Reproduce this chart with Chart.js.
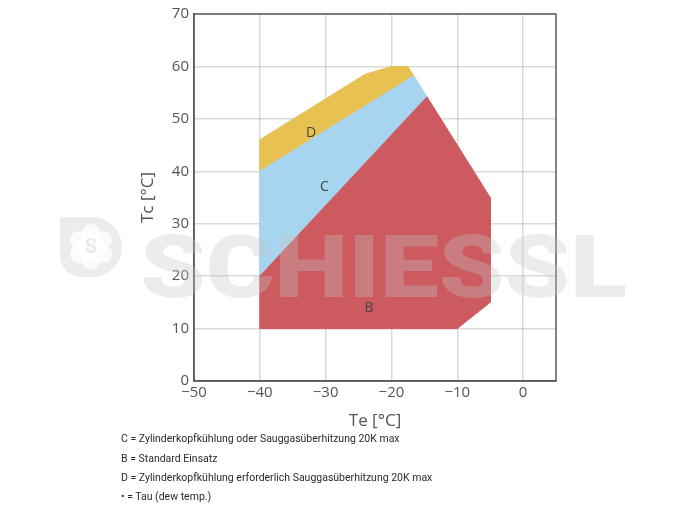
<!DOCTYPE html>
<html>
<head>
<meta charset="utf-8">
<script src="https://cdn.jsdelivr.net/npm/chart.js@4/dist/chart.umd.min.js"></script>
<style>
  html, body { margin: 0; padding: 0; background: #fff; }
  #wrap { position: relative; width: 685px; height: 514px; }
  canvas { position: absolute; left: 0; top: 0; }
  .note { position: absolute; left: 121px; font-family: Roboto, sans-serif; font-size: 10.5px; line-height: 12px; color: #2a2a2a; white-space: nowrap; }
</style>
</head>
<body>
<div id="wrap">
  <canvas id="c" width="685" height="514"></canvas>
  <div class="note" style="top:433px">C = Zylinderkopfkühlung oder Sauggasüberhitzung 20K max</div>
  <div class="note" style="top:453px">B = Standard Einsatz</div>
  <div class="note" style="top:472px">D = Zylinderkopfkühlung erforderlich Sauggasüberhitzung 20K max</div>
  <div class="note" style="top:491px">• = Tau (dew temp.)</div>
</div>
<script>
// ---- data ----
const xTicks = [-50, -40, -30, -20, -10, 0];
const yTicks = [0, 10, 20, 30, 40, 50, 60, 70];
const xRange = [-50, 5];
const yRange = [0, 70];

// Region B (Standard Einsatz) outline: Te / Tc
const bTe = [-40, -40, -14.6, -5, -5, -10, -40];
const bTc = [10, 20, 54.2, 35, 15, 10, 10];
// Region C outline
const cTe = [-40, -40, -16.6, -14.6, -40];
const cTc = [20, 40, 58.2, 54.2, 20];
// Region D outline
const dTe = [-40, -40, -24, -20, -17.5, -16.6, -40];
const dTc = [40, 46, 58.5, 60, 60, 58.2, 40];

// Region labels
const regionNames = ['B', 'C', 'D'];
const labelTe = [-23.4, -30.2, -32.2];
const labelTc = [13.9, 37, 47.3];

const xTitle = 'Te [°C]';
const yTitle = 'Tc [°C]';
const watermark = 'SCHIESSL';

function pts(xs, ys) { return xs.map((x, i) => ({ x: x, y: ys[i] })); }
function fmt(v) { return v < 0 ? '\u2212' + Math.abs(v) : String(v); }

const tickFont = { family: "'Open Sans', sans-serif", size: 15 };
const titleFont = { family: "'Open Sans', sans-serif", size: 17 };

const regionLabels = {
  id: 'regionLabels',
  afterDatasetsDraw(chart) {
    const ctx = chart.ctx, xs = chart.scales.x, ys = chart.scales.y;
    ctx.save();
    ctx.font = "14px 'Open Sans', sans-serif";
    ctx.fillStyle = '#444';
    ctx.textAlign = 'center';
    ctx.textBaseline = 'middle';
    regionNames.forEach((n, i) => {
      ctx.fillText(n, xs.getPixelForValue(labelTe[i]), ys.getPixelForValue(labelTc[i]));
    });
    ctx.restore();
  }
};

const frame = {
  id: 'frame',
  afterDraw(chart) {
    const ctx = chart.ctx, a = chart.chartArea;
    ctx.save();
    ctx.strokeStyle = '#5a5a5a';
    ctx.lineWidth = 1.5;
    ctx.strokeRect(a.left, a.top, a.right - a.left, a.bottom - a.top);
    ctx.restore();
  }
};

const mark = {
  id: 'mark',
  afterDraw(chart) {
    const ctx = chart.ctx;
    ctx.save();
    const col = 'rgba(197,197,197,0.33)';
    // shield logo
    ctx.fillStyle = col;
    ctx.beginPath();
    ctx.roundRect(60, 217, 62, 60, [2, 31, 31, 22]);
    ctx.fill();
    ctx.fillStyle = 'rgba(255,255,255,0.8)';
    for (let k = 0; k < 6; k++) {
      const ang = k * Math.PI / 3 + Math.PI / 6;
      ctx.beginPath();
      ctx.arc(91 + Math.cos(ang) * 14, 247 + Math.sin(ang) * 14, 9, 0, Math.PI * 2);
      ctx.fill();
    }
    ctx.beginPath();
    ctx.arc(91, 247, 14, 0, Math.PI * 2);
    ctx.fill();
    ctx.fillStyle = col;
    ctx.font = "bold 20px Roboto, sans-serif";
    ctx.textAlign = 'center';
    ctx.textBaseline = 'middle';
    ctx.fillText('S', 91, 248);
    // text
    ctx.font = "900 87px Roboto, sans-serif";
    ctx.textAlign = 'left';
    ctx.textBaseline = 'alphabetic';
    const w = ctx.measureText(watermark).width;
    ctx.translate(140, 297);
    ctx.scale(487 / w, 1);
    ctx.fillStyle = col;
    ctx.fillText(watermark, 0, 0);
    ctx.restore();
  }
};

function region(data, color) {
  return {
    data: data,
    showLine: true,
    fill: 'shape',
    backgroundColor: color,
    borderColor: color,
    borderWidth: 1,
    pointRadius: 0,
    pointHoverRadius: 0,
    tension: 0
  };
}

new Chart(document.getElementById('c'), {
  type: 'scatter',
  data: {
    datasets: [
      region(pts(bTe, bTc), '#cd5a5e'),
      region(pts(cTe, cTc), '#a7d4ef'),
      region(pts(dTe, dTc), '#e8c153')
    ]
  },
  options: {
    responsive: false,
    animation: false,
    events: [],
    layout: { padding: { left: 0, top: 14, right: 129, bottom: 74 } },
    plugins: { legend: { display: false }, tooltip: { enabled: false } },
    scales: {
      x: {
        type: 'linear', min: xRange[0], max: xRange[1], z: 1,
        afterBuildTicks: s => { s.ticks = xTicks.map(v => ({ value: v })); },
        afterFit: s => { s.height = 59; },
        grid: { color: 'rgba(0,0,0,0.15)', lineWidth: 1.5, drawTicks: false },
        border: { color: '#5a5a5a', width: 1.5 },
        ticks: { font: tickFont, color: '#555', padding: 3, maxRotation: 0, callback: v => fmt(v) },
        title: { display: true, text: xTitle, font: titleFont, color: '#555', padding: { top: 0, bottom: 9 } }
      },
      y: {
        type: 'linear', min: yRange[0], max: yRange[1], z: 1,
        afterBuildTicks: s => { s.ticks = yTicks.map(v => ({ value: v })); },
        afterFit: s => { s.width = 194; },
        grid: { color: 'rgba(0,0,0,0.15)', lineWidth: 1.5, drawTicks: false },
        border: { color: '#5a5a5a', width: 1.5 },
        ticks: { font: tickFont, color: '#555', padding: 5, callback: v => fmt(v) },
        title: { display: true, text: yTitle, font: titleFont, color: '#555', padding: { top: 138, bottom: 0 } }
      }
    }
  },
  plugins: [regionLabels, frame, mark]
});
</script>
</body>
</html>
